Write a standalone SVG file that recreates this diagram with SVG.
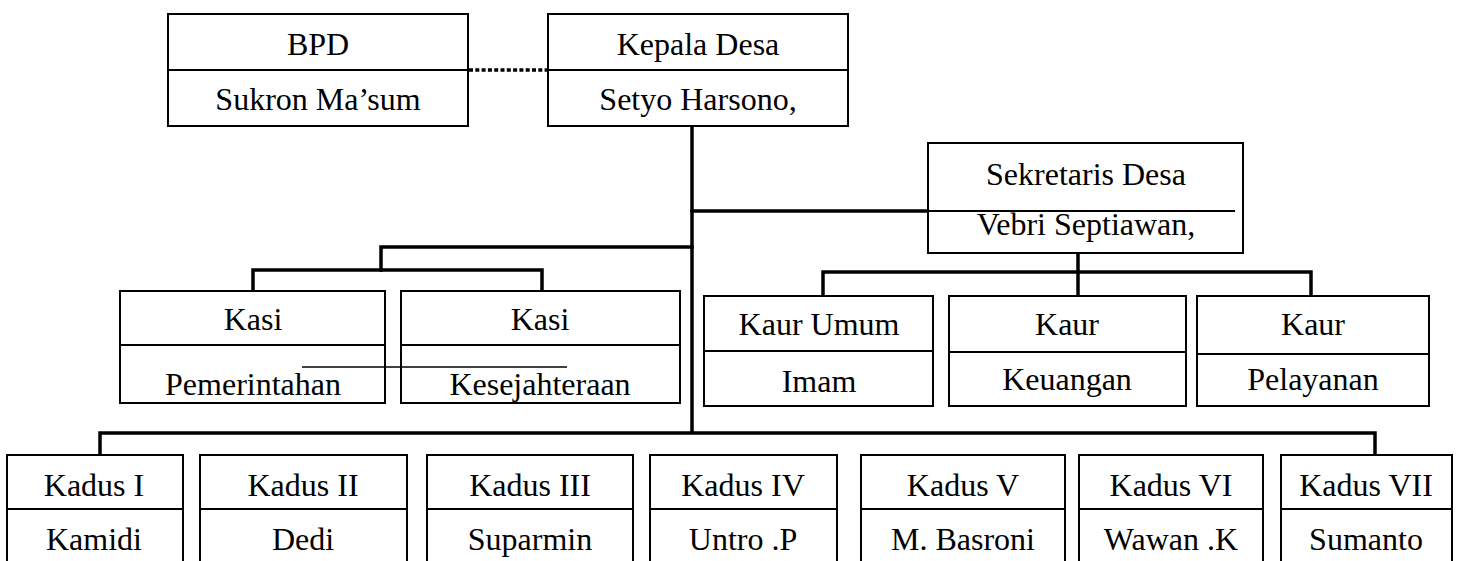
<svg xmlns="http://www.w3.org/2000/svg" width="1462" height="561" viewBox="0 0 1462 561">
<style>
.box{fill:#fff;stroke:#000;stroke-width:2}
.div{stroke:#000;stroke-width:2;fill:none}
.t{font-family:"Liberation Serif","Times New Roman",serif;font-size:32px;fill:#000;text-anchor:middle}
.c{stroke:#000;stroke-width:3.5;fill:none;stroke-linecap:square}
.dot{stroke:#000;stroke-width:3.5;fill:none;stroke-dasharray:4 2.3}
.thin{stroke:#000;stroke-width:1.5;fill:none}
</style>
<rect width="1462" height="561" fill="#fff"/>
<g id="connectors">
<line class="dot" x1="469" y1="70" x2="548" y2="70"/>
<line class="c" x1="692" y1="127" x2="692" y2="432"/>
<line class="c" x1="692" y1="211" x2="927" y2="211"/>
<polyline class="c" points="692,247 381,247 381,270"/>
<polyline class="c" points="253,290 253,270 542,270 542,290"/>
<line class="c" x1="1078" y1="254" x2="1078" y2="295"/>
<polyline class="c" points="823,295 823,272 1311,272 1311,295"/>
<polyline class="c" points="100,454 100,433 1375,433 1375,454"/>
</g>
<g id="bpd">
<rect class="box" x="168" y="14" width="300" height="112"/>
<line class="div" x1="168" y1="70" x2="468" y2="70"/>
<text class="t" x="318" y="55">BPD</text>
<text class="t" x="318" y="110">Sukron Ma’sum</text>
</g>
<g id="kepala-desa">
<rect class="box" x="548" y="14" width="300" height="112"/>
<line class="div" x1="548" y1="70" x2="848" y2="70"/>
<text class="t" x="698" y="55">Kepala Desa</text>
<text class="t" x="698" y="110">Setyo Harsono,</text>
</g>
<g id="sekretaris-desa">
<rect class="box" x="928" y="143" width="315" height="110"/>
<line class="div" x1="928" y1="211" x2="1235" y2="211"/>
<text class="t" x="1086" y="185">Sekretaris Desa</text>
<text class="t" x="1086" y="235">Vebri Septiawan,</text>
</g>
<g id="kasi-pemerintahan">
<rect class="box" x="120" y="291" width="265" height="112"/>
<line class="div" x1="120" y1="345" x2="385" y2="345"/>
<text class="t" x="253" y="330">Kasi</text>
<text class="t" x="253" y="395">Pemerintahan</text>
</g>
<g id="kasi-kesejahteraan">
<rect class="box" x="401" y="291" width="279" height="112"/>
<line class="div" x1="401" y1="345" x2="680" y2="345"/>
<text class="t" x="540" y="330">Kasi</text>
<text class="t" x="540" y="395">Kesejahteraan</text>
</g>
<line class="thin" x1="302" y1="367" x2="567" y2="367"/>
<g id="kaur-umum">
<rect class="box" x="704" y="296" width="229" height="110"/>
<line class="div" x1="704" y1="351" x2="933" y2="351"/>
<text class="t" x="819" y="335">Kaur Umum</text>
<text class="t" x="819" y="392">Imam</text>
</g>
<g id="kaur-keuangan">
<rect class="box" x="949" y="296" width="237" height="110"/>
<line class="div" x1="949" y1="352" x2="1186" y2="352"/>
<text class="t" x="1067" y="335">Kaur</text>
<text class="t" x="1067" y="390">Keuangan</text>
</g>
<g id="kaur-pelayanan">
<rect class="box" x="1197" y="296" width="232" height="110"/>
<line class="div" x1="1197" y1="354" x2="1429" y2="354"/>
<text class="t" x="1313" y="335">Kaur</text>
<text class="t" x="1313" y="390">Pelayanan</text>
</g>
<g id="kadus-1">
<rect class="box" x="7" y="455" width="176" height="120"/>
<line class="div" x1="7" y1="509" x2="183" y2="509"/>
<text class="t" x="94" y="496">Kadus I</text>
<text class="t" x="94" y="550">Kamidi</text>
</g>
<g id="kadus-2">
<rect class="box" x="200" y="455" width="207" height="120"/>
<line class="div" x1="200" y1="509" x2="407" y2="509"/>
<text class="t" x="303" y="496">Kadus II</text>
<text class="t" x="303" y="550">Dedi</text>
</g>
<g id="kadus-3">
<rect class="box" x="427" y="455" width="206" height="120"/>
<line class="div" x1="427" y1="509" x2="633" y2="509"/>
<text class="t" x="530" y="496">Kadus III</text>
<text class="t" x="530" y="550">Suparmin</text>
</g>
<g id="kadus-4">
<rect class="box" x="650" y="455" width="187" height="120"/>
<line class="div" x1="650" y1="509" x2="837" y2="509"/>
<text class="t" x="743" y="496">Kadus IV</text>
<text class="t" x="743" y="550">Untro .P</text>
</g>
<g id="kadus-5">
<rect class="box" x="861" y="455" width="204" height="120"/>
<line class="div" x1="861" y1="509" x2="1065" y2="509"/>
<text class="t" x="963" y="496">Kadus V</text>
<text class="t" x="963" y="550">M. Basroni</text>
</g>
<g id="kadus-6">
<rect class="box" x="1079" y="455" width="184" height="120"/>
<line class="div" x1="1079" y1="509" x2="1263" y2="509"/>
<text class="t" x="1171" y="496">Kadus VI</text>
<text class="t" x="1171" y="550">Wawan .K</text>
</g>
<g id="kadus-7">
<rect class="box" x="1281" y="455" width="171" height="120"/>
<line class="div" x1="1281" y1="509" x2="1452" y2="509"/>
<text class="t" x="1366" y="496">Kadus VII</text>
<text class="t" x="1366" y="550">Sumanto</text>
</g>
</svg>
